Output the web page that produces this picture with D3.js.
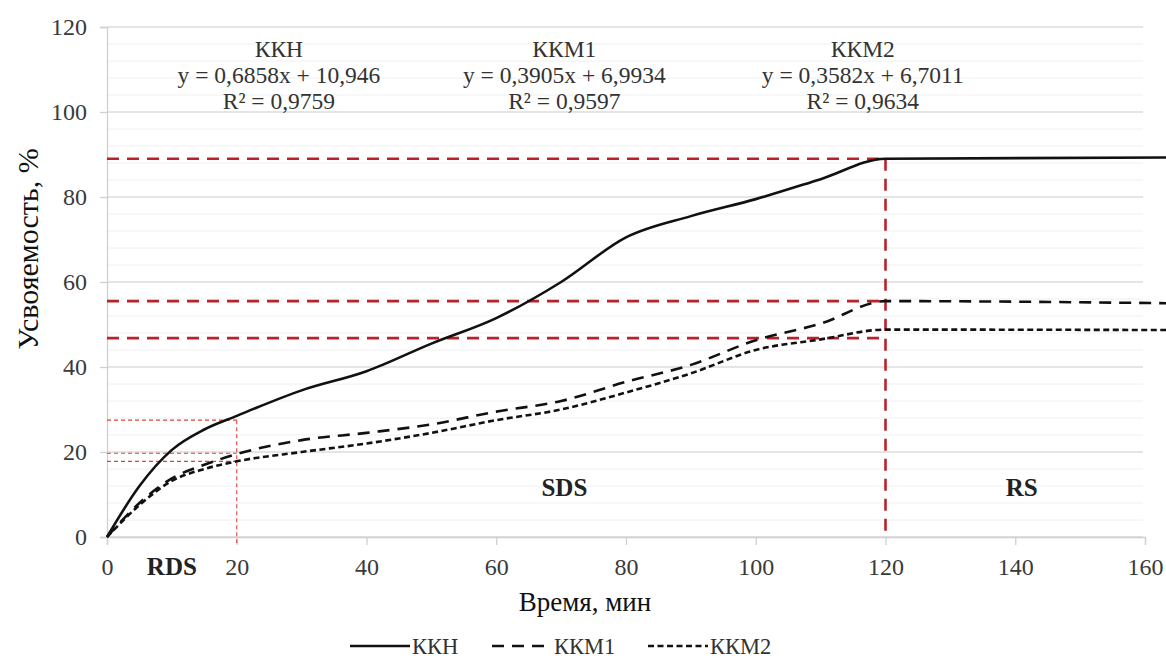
<!DOCTYPE html>
<html>
<head>
<meta charset="utf-8">
<script src="https://cdn.jsdelivr.net/npm/d3@7"></script>
<style>
  body { margin: 0; background: #fff; }
  svg { display: block; font-family: "Liberation Serif", "DejaVu Serif", serif; }
</style>
</head>
<body>
<svg id="chart" width="1166" height="661"></svg>
<script>
  // Data
  var kkhX  = [0, 5, 10, 15, 20, 30, 40, 50, 60, 70, 80, 90, 100, 110, 120, 164];
  var kkhY  = [0, 12, 20.5, 25.3, 28.5, 34.5, 39, 45.5, 51.5, 60, 70.5, 75.5, 79.5, 84.2, 89, 89.3];
  var kkm1X = [0, 5, 10, 15, 20, 30, 40, 50, 60, 70, 80, 90, 100, 110, 120, 164];
  var kkm1Y = [0, 8, 13.8, 17, 19.5, 22.8, 24.5, 26.5, 29.5, 32, 36.5, 40.5, 46.3, 50.2, 55.5, 55];
  var kkm2X = [0, 5, 10, 15, 20, 30, 40, 50, 60, 70, 80, 90, 100, 110, 120, 164];
  var kkm2Y = [0, 7.5, 13.2, 16, 17.8, 20, 22, 24.5, 27.5, 30, 34, 38.5, 44, 46.5, 48.8, 48.7];
  var xTicks = [0, 20, 40, 60, 80, 100, 120, 140, 160];
  var yTicks = [0, 20, 40, 60, 80, 100, 120];
  var yMinor = d3.range(0, 121, 4);
  var thickLevels = [89, 55.5, 46.8];   // red dashed levels at 120 min
  var thinLevels = [27.5, 19.7, 17.8];  // red dotted levels at 20 min
  var equations = [
    {x: 26.5, lines: ["ККН", "y = 0,6858x + 10,946", "R² = 0,9759"]},
    {x: 70.5, lines: ["ККМ1", "y = 0,3905x + 6,9934", "R² = 0,9597"]},
    {x: 116.5, lines: ["ККМ2", "y = 0,3582x + 6,7011", "R² = 0,9634"]}
  ];
  var zones = [
    {x: 10, y: -7, text: "RDS"},
    {x: 70.5, y: 11.7, text: "SDS"},
    {x: 141, y: 11.7, text: "RS"}
  ];

  var series = [
    {name: "ККН", xs: kkhX, ys: kkhY, dash: null},
    {name: "ККМ1", xs: kkm1X, ys: kkm1Y, dash: "12,8"},
    {name: "ККМ2", xs: kkm2X, ys: kkm2Y, dash: "6,3.5"}
  ];

  var svg = d3.select("#chart");
  var x = d3.scaleLinear().domain([0, 160]).range([107, 1145]);
  var y = d3.scaleLinear().domain([0, 120]).range([537, 27]);

  // grid
  svg.append("g").selectAll("line").data(yMinor).enter().append("line")
    .attr("x1", x(0)).attr("x2", 1143)
    .attr("y1", function(d) { return y(d); }).attr("y2", function(d) { return y(d); })
    .attr("stroke", function(d) { return d % 20 === 0 ? "#dcdcdc" : "#f0f0f0"; })
    .attr("stroke-width", function(d) { return d % 20 === 0 ? 1.3 : 1; });

  // axes
  var xAxis = svg.append("g").attr("transform", "translate(0," + y(0) + ")")
    .call(d3.axisBottom(x).tickValues(xTicks).tickSize(8).tickPadding(13).tickFormat(d3.format("d")));
  var yAxis = svg.append("g").attr("transform", "translate(" + x(0) + ",0)")
    .call(d3.axisLeft(y).tickValues(yTicks).tickSize(7).tickPadding(13).tickFormat(d3.format("d")));
  [xAxis, yAxis].forEach(function(a) {
    a.select(".domain").attr("stroke", "#d0d0d0").attr("stroke-width", 1.3);
    a.selectAll(".tick line").attr("stroke", "#d0d0d0").attr("stroke-width", 1.3);
    a.selectAll(".tick text").attr("font-size", "24px").attr("fill", "#3a3a3a")
      .attr("font-family", "Liberation Serif");
  });
  xAxis.selectAll(".tick line").attr("y1", 0);

  // thin red dotted guides at 20 min
  var guides = svg.append("g");
  thinLevels.forEach(function(v) {
    guides.append("line")
      .attr("x1", x(0)).attr("x2", x(20)).attr("y1", y(v)).attr("y2", y(v))
      .attr("stroke", "#d9443f").attr("stroke-width", 1.1).attr("stroke-dasharray", "4,3");
  });
  guides.append("line")
    .attr("x1", x(20)).attr("x2", x(20)).attr("y1", y(thinLevels[0])).attr("y2", y(0) + 7)
    .attr("stroke", "#d9443f").attr("stroke-width", 1.1).attr("stroke-dasharray", "4,3");

  // thick red dashed guides at 120 min
  thickLevels.forEach(function(v) {
    guides.append("line")
      .attr("x1", x(0)).attr("x2", x(120)).attr("y1", y(v)).attr("y2", y(v))
      .attr("stroke", "#b8232b").attr("stroke-width", 2.6).attr("stroke-dasharray", "12,8");
  });
  guides.append("line")
    .attr("x1", x(120)).attr("x2", x(120)).attr("y1", y(thickLevels[0])).attr("y2", y(0))
    .attr("stroke", "#b8232b").attr("stroke-width", 2.6).attr("stroke-dasharray", "12,8");

  // series lines
  var line = d3.line()
    .x(function(d) { return x(d[0]); })
    .y(function(d) { return y(d[1]); })
    .curve(d3.curveMonotoneX);
  series.forEach(function(s) {
    var pts = s.xs.map(function(v, i) { return [v, s.ys[i]]; });
    svg.append("path").datum(pts)
      .attr("d", line)
      .attr("fill", "none")
      .attr("stroke", "#111")
      .attr("stroke-width", 2.6)
      .attr("stroke-dasharray", s.dash);
  });

  // regression equations
  equations.forEach(function(e) {
    var t = svg.append("text").attr("text-anchor", "middle")
      .attr("font-size", "23.5px").attr("fill", "#333");
    e.lines.forEach(function(l, i) {
      t.append("tspan").attr("x", x(e.x)).attr("y", 57 + i * 26).text(l);
    });
  });

  // zone labels
  svg.append("g").selectAll("text").data(zones).enter().append("text")
    .attr("x", function(d) { return x(d.x); })
    .attr("y", function(d) { return y(d.y); })
    .attr("text-anchor", "middle")
    .attr("dominant-baseline", "central")
    .attr("font-size", "25px").attr("font-weight", "bold").attr("fill", "#222")
    .text(function(d) { return d.text; });

  // axis titles
  svg.append("text")
    .attr("transform", "translate(27,249) rotate(-90)")
    .attr("text-anchor", "middle").attr("dominant-baseline", "central")
    .attr("font-size", "30px").attr("fill", "#111")
    .text("Усвояемость, %");
  svg.append("text")
    .attr("x", 585).attr("y", 602)
    .attr("text-anchor", "middle").attr("dominant-baseline", "central")
    .attr("font-size", "27px").attr("fill", "#111")
    .text("Время, мин");

  // legend
  var legendX = [350, 492, 648];
  var legend = svg.append("g");
  series.forEach(function(s, i) {
    legend.append("line")
      .attr("x1", legendX[i]).attr("x2", legendX[i] + 60)
      .attr("y1", 646).attr("y2", 646)
      .attr("stroke", "#111").attr("stroke-width", 2.6)
      .attr("stroke-dasharray", s.dash);
    legend.append("text")
      .attr("x", legendX[i] + 62).attr("y", 646)
      .attr("dominant-baseline", "central")
      .attr("font-size", "22.5px").attr("fill", "#333")
      .text(s.name);
  });
</script>
</body>
</html>
